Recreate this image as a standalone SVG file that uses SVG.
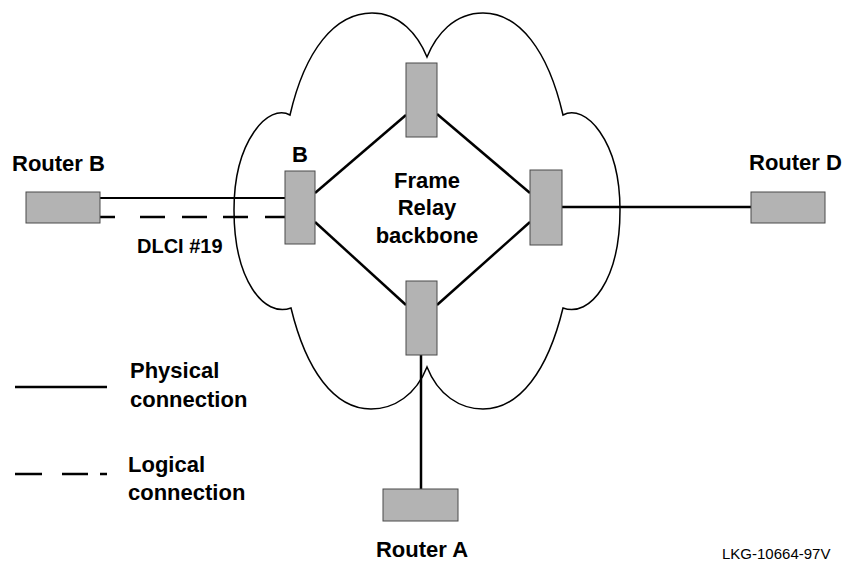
<svg xmlns="http://www.w3.org/2000/svg" width="850" height="561" viewBox="0 0 850 561">
<style>
  .cloud { fill: none; stroke: #000; stroke-width: 1.5; stroke-linejoin: miter; }
  .box { fill: #b3b3b3; stroke: #4a4a4a; stroke-width: 1; }
  .link { stroke: #000; stroke-width: 2.5; fill: none; }
  .thin { stroke-width: 2; }
  .lbl { font-family: "Liberation Sans", Arial, sans-serif; font-weight: bold; font-size: 22px; fill: #000; }
  .small { font-family: "Liberation Sans", Arial, sans-serif; font-size: 15px; fill: #000; }
</style>
<rect width="850" height="561" fill="#fff"/>

<g id="cloud">
  <path class="cloud" d="M290,115 C305,50 335,13 372,13 C400,13 418,35 427,57 C436,35 454,13 483,13 C519,13 548,50 563,115 C585,103 620,140 620,210 C620,280 590,318 563,308 C548,370 520,409 483,409 C460,409 438,395 427,367 C416,395 394,409 371,409 C334,409 306,370 291,308 C264,318 234,280 234,210 C234,140 269,103 290,115 Z"/>
</g>

<g id="connectors">
  <line class="link" x1="315" y1="193" x2="406" y2="115"/>
  <line class="link" x1="437" y1="114" x2="530" y2="193"/>
  <line class="link" x1="315" y1="222" x2="406" y2="305"/>
  <line class="link" x1="437" y1="305" x2="530" y2="222"/>
  <line class="link" x1="562" y1="207" x2="751" y2="207"/>
  <line class="link" x1="421" y1="355" x2="421" y2="489"/>
  <line class="link thin" x1="100" y1="198" x2="285" y2="198"/>
  <line class="link" x1="100" y1="217" x2="285" y2="217" stroke-dasharray="15 25 25 17 25 16 25 17 20"/>
</g>

<g id="switch-top"><rect class="box" x="406" y="63" width="31" height="74"/></g>
<g id="switch-b"><rect class="box" x="285" y="171" width="30" height="73"/></g>
<g id="switch-right"><rect class="box" x="530" y="170" width="32" height="75"/></g>
<g id="switch-bottom"><rect class="box" x="406" y="281" width="31" height="74"/></g>

<g id="router-b">
  <rect class="box" x="26" y="192" width="74" height="31"/>
  <text class="lbl" x="12" y="171">Router B</text>
</g>
<g id="router-d">
  <rect class="box" x="751" y="192" width="74" height="31"/>
  <text class="lbl" x="749" y="170">Router D</text>
</g>
<g id="router-a">
  <rect class="box" x="383" y="489" width="75" height="32"/>
  <text class="lbl" x="422" y="557" text-anchor="middle">Router A</text>
</g>

<g id="labels">
  <text class="lbl" x="300" y="162" text-anchor="middle">B</text>
  <text class="lbl" x="137" y="253" style="font-size:20px">DLCI #19</text>
  <text class="lbl" x="427" y="188" text-anchor="middle">Frame</text>
  <text class="lbl" x="427" y="215" text-anchor="middle">Relay</text>
  <text class="lbl" x="427" y="243" text-anchor="middle">backbone</text>
  <text class="small" x="722" y="559">LKG-10664-97V</text>
</g>

<g id="legend">
  <line class="link" x1="15" y1="387" x2="107" y2="387"/>
  <text class="lbl" x="130" y="378">Physical</text>
  <text class="lbl" x="130" y="407">connection</text>
  <line class="link" x1="15" y1="474" x2="107" y2="474" stroke-dasharray="27 20 26 12 7"/>
  <text class="lbl" x="128" y="472">Logical</text>
  <text class="lbl" x="128" y="500">connection</text>
</g>
</svg>
